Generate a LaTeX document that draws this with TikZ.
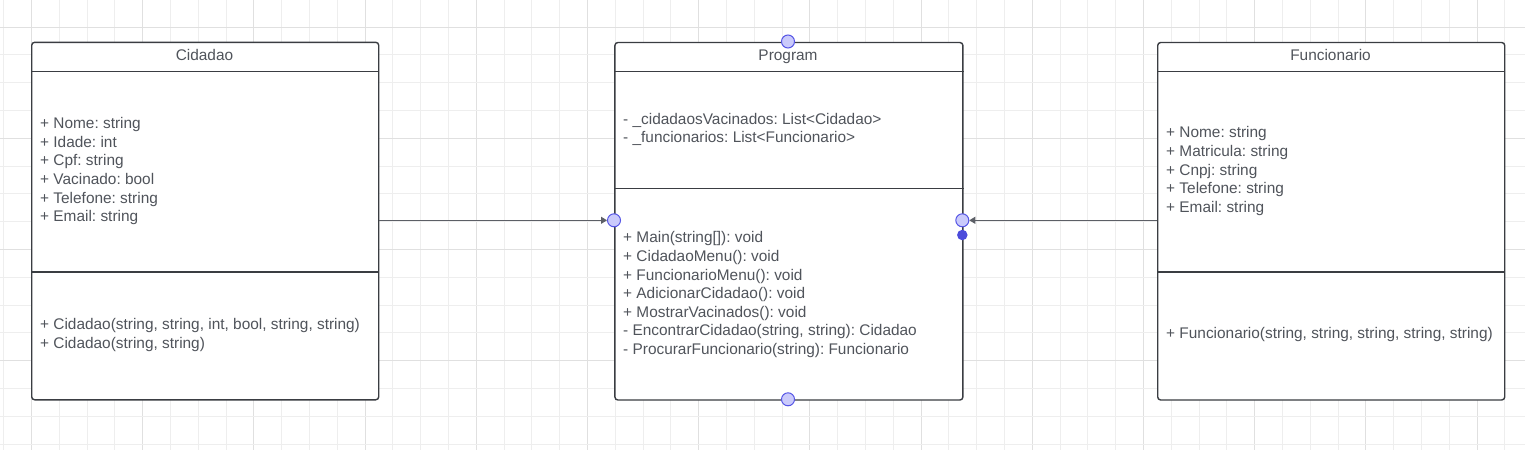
\documentclass[tikz,border=0pt]{standalone}
\usepackage{fontspec}
\setmainfont{Liberation Sans}
\usetikzlibrary{arrows.meta}
\frenchspacing
\definecolor{txtc}{HTML}{50545B}
\definecolor{boxc}{HTML}{3A3D42}
\definecolor{linec}{HTML}{5C5F66}
\definecolor{gridminor}{HTML}{EEEEEE}
\definecolor{gridmajor}{HTML}{E0E0E0}
\definecolor{portfill}{HTML}{CACAFB}
\definecolor{portline}{HTML}{5656E6}
\definecolor{dotc}{HTML}{4B4BDB}
\tikzset{
  clsbox/.style={draw=boxc, line width=1.4pt, fill=white, rounded corners=3pt, inner sep=0pt, anchor=north west},
  divider/.style={draw=boxc, line width=1.4pt},
  txt/.style={text=txtc, inner sep=0pt, font=\fontsize{15.4}{18.6}\selectfont\frenchspacing},
  port/.style={circle, draw=portline, fill=portfill, line width=1pt, minimum size=13pt, inner sep=0pt},
  dotport/.style={circle, fill=dotc, minimum size=10.5pt, inner sep=0pt},
  conn/.style={draw=linec, line width=0.9pt, -{Triangle[length=6pt,width=7pt]}},
}
\begin{document}
\begin{tikzpicture}[x=1pt,y=-1pt]
\useasboundingbox (0,0) rectangle (1525,450);
\fill[white] (0,0) rectangle (1525,450);
% grid
\foreach \k in {0,...,54} {
  \pgfmathtruncatemacro{\m}{mod(\k,4)}
  \ifnum\m=1
    \draw[gridmajor, line width=1pt] ({3.7+27.8*\k},0) -- ({3.7+27.8*\k},450);
  \else
    \draw[gridminor, line width=1pt] ({3.7+27.8*\k},0) -- ({3.7+27.8*\k},450);
  \fi
}
\foreach \k in {0,...,15} {
  \pgfmathtruncatemacro{\m}{mod(\k,4)}
  \ifnum\m=0
    \draw[gridmajor, line width=1pt] (0,{27+27.8*\k}) -- (1525,{27+27.8*\k});
  \else
    \draw[gridminor, line width=1pt] (0,{27+27.8*\k}) -- (1525,{27+27.8*\k});
  \fi
}

% boxes
\node[clsbox, minimum width=347pt, minimum height=357.5pt] (cid) at (31,41.6) {};
\node[clsbox, minimum width=348pt, minimum height=357.5pt] (prog) at (614.2,41.8) {};
\node[clsbox, minimum width=347pt, minimum height=357.5pt] (func) at (1157,41.8) {};

\draw[divider] (cid.west |- 0,71.3) -- (cid.east |- 0,71.3);
\draw[divider] (cid.west |- 0,272) -- (cid.east |- 0,272);
\draw[divider] (prog.west |- 0,71.5) -- (prog.east |- 0,71.5);
\draw[divider] (prog.west |- 0,188.6) -- (prog.east |- 0,188.6);
\draw[divider] (func.west |- 0,71.5) -- (func.east |- 0,71.5);
\draw[divider] (func.west |- 0,272) -- (func.east |- 0,272);

% headers
\node[txt, anchor=base] (cid-h) at (204.5,60.5) {Cidadao};
\node[txt, anchor=base] (prog-h) at (788,60.5) {Program};
\node[txt, anchor=base] (func-h) at (1330.5,60.5) {Funcionario};

% Cidadao
\foreach \t [count=\i] in {{+ Nome: string},{+ Idade: int},{+ Cpf: string},{+ Vacinado: bool},{+ Telefone: string},{+ Email: string}}
  \node[txt, anchor=base west] (cid-a\i) at (40,{128.6+18.6*(\i-1)}) {\t};
\foreach \t [count=\i] in {{+ Cidadao(string, string, int, bool, string, string)},{+ Cidadao(string, string)}}
  \node[txt, anchor=base west] (cid-m\i) at (40,{329.6+18.6*(\i-1)}) {\t};

% Program
\foreach \t [count=\i] in {{- \_cidadaosVacinados: List<Cidadao>},{- \_funcionarios: List<Funcionario>}}
  \node[txt, anchor=base west] (prog-a\i) at (623,{124.2+18.6*(\i-1)}) {\t};
\foreach \t [count=\i] in {{+ Main(string[]): void},{+ CidadaoMenu(): void},{+ FuncionarioMenu(): void},{+ AdicionarCidadao(): void},{+ MostrarVacinados(): void},{- EncontrarCidadao(string, string): Cidadao},{- ProcurarFuncionario(string): Funcionario}}
  \node[txt, anchor=base west] (prog-m\i) at (623,{242.8+18.6*(\i-1)}) {\t};

% Funcionario
\foreach \t [count=\i] in {{+ Nome: string},{+ Matricula: string},{+ Cnpj: string},{+ Telefone: string},{+ Email: string}}
  \node[txt, anchor=base west] (func-a\i) at (1166,{137.8+18.6*(\i-1)}) {\t};
\node[txt, anchor=base west] (func-m1) at (1166,338.8) {+ Funcionario(string, string, string, string, string)};

% ports
\node[port] (ptop) at (788,41.5) {};
\node[port] (pbot) at (788,399.3) {};
\node[port] (pleft) at (614,220.3) {};
\node[port] (pright) at (962.3,220.3) {};
\node[dotport] (pdot) at (962.3,235) {};

% connectors
\draw[conn] (cid.east |- pleft) -- (pleft.west);
\draw[conn] (func.west |- pright) -- (pright.east);
\end{tikzpicture}
\end{document}
